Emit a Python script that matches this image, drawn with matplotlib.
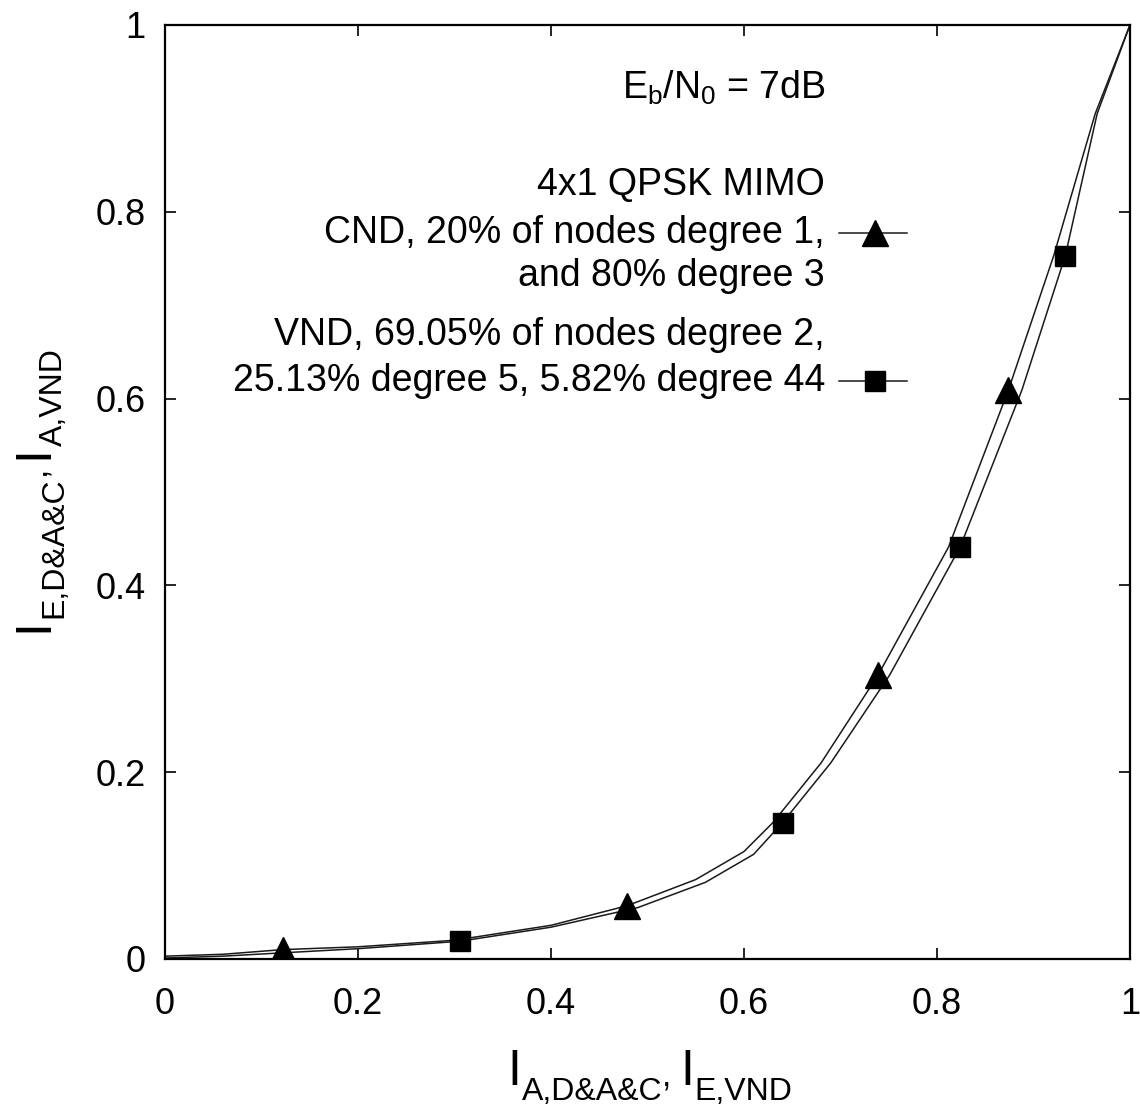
import matplotlib
matplotlib.use('Agg')
import matplotlib.pyplot as plt
import numpy as np

plt.rcParams['font.family'] = ['Liberation Sans', 'DejaVu Sans']
plt.rcParams['mathtext.fontset'] = 'custom'
plt.rcParams['mathtext.rm'] = 'Liberation Sans'
plt.rcParams['mathtext.it'] = 'Liberation Sans'
plt.rcParams['mathtext.bf'] = 'Liberation Sans'

# CND curve (triangles)
cnd_x = [0.0, 0.06, 0.122, 0.2, 0.3, 0.4, 0.479, 0.55, 0.6, 0.63, 0.68, 0.739, 0.812, 0.874, 0.921, 0.964, 1.0]
cnd_y = [0.003, 0.005, 0.010, 0.013, 0.020, 0.036, 0.057, 0.085, 0.115, 0.146, 0.21, 0.304, 0.441, 0.609, 0.753, 0.905, 1.0]
cnd_mx = [0.122, 0.479, 0.739, 0.874]
cnd_my = [0.010, 0.057, 0.304, 0.609]

# VND curve, inverted axes (squares)
vnd_x = [0.0, 0.06, 0.13, 0.2, 0.306, 0.4, 0.49, 0.56, 0.61, 0.64, 0.69, 0.751, 0.824, 0.888, 0.933, 0.966, 1.0]
vnd_y = [0.001, 0.003, 0.007, 0.011, 0.019, 0.034, 0.055, 0.082, 0.112, 0.146, 0.21, 0.304, 0.441, 0.609, 0.753, 0.905, 1.0]
vnd_mx = [0.306, 0.64, 0.824, 0.933]
vnd_my = [0.019, 0.146, 0.441, 0.753]

ticks = [0, 0.2, 0.4, 0.6, 0.8, 1]
tick_labels = ['0', '0.2', '0.4', '0.6', '0.8', '1']

W, H = 1140, 1109
fig = plt.figure(figsize=(W / 100, H / 100), dpi=100)
ax = fig.add_axes([0.1447, 0.1353, 0.8465, 0.8422])

ax.plot(cnd_x, cnd_y, color='0.1', lw=1.1)
ax.plot(vnd_x, vnd_y, color='0.1', lw=1.1)
ax.plot(cnd_mx, cnd_my, ls='none', marker='^', ms=19, color='black')
ax.plot(vnd_mx, vnd_my, ls='none', marker='s', ms=15, color='black')

ax.set_xlim(0, 1)
ax.set_ylim(0, 1)
ax.set_xticks(ticks)
ax.set_yticks(ticks)
ax.set_xticklabels(tick_labels)
ax.set_yticklabels(tick_labels)
ax.tick_params(axis='both', direction='in', length=8, width=1.2, labelsize=26,
               top=True, right=True)
ax.tick_params(axis='x', pad=20)
ax.tick_params(axis='y', pad=14)
for s in ax.spines.values():
    s.set_linewidth(1.6)


def compound_label(pieces, cx, cy, vertical=False):
    # pieces: (text, fontsize, drop in px); laid out one after another, centred on cx/cy
    r = fig.canvas.get_renderer()
    placed = []
    total = 0
    for s, size, drop in pieces:
        t = fig.text(0, 0, s, fontsize=size, rotation=90 if vertical else 0,
                     rotation_mode='anchor', ha='left', va='baseline')
        ext = t.get_window_extent(r)
        placed.append((t, total, drop))
        total += ext.height if vertical else ext.width
    for t, off, drop in placed:
        if vertical:
            x, y = cx + drop, cy - total / 2 + off
        else:
            x, y = cx - total / 2 + off, cy - drop
        t.set_position((x / W, y / H))


compound_label([('I', 36, 0), ('A,D&A&C', 23, 15), (', ', 24, 0),
                ('I', 36, 0), ('E,VND', 23, 15)], 650, 24)
compound_label([('I', 36, 0), ('E,D&A&C', 23, 15), (', ', 24, 0),
                ('I', 36, 0), ('A,VND', 23, 15)], 47, 619, vertical=True)

# legend block
tx = 0.684
fs = 27
ax.text(tx, 0.9325, r'$E_{b}/N_{0}$ = 7dB', fontsize=fs, ha='right', va='center')
ax.text(tx, 0.829, '4x1 QPSK MIMO', fontsize=fs, ha='right', va='center')
ax.text(tx, 0.777, 'CND, 20% of nodes degree 1,', fontsize=fs, ha='right', va='center')
ax.text(tx, 0.731, 'and 80% degree 3', fontsize=fs, ha='right', va='center')
ax.text(tx, 0.668, 'VND, 69.05% of nodes degree 2,', fontsize=fs, ha='right', va='center')
ax.text(tx, 0.619, '25.13% degree 5, 5.82% degree 44', fontsize=fs, ha='right', va='center')

ax.plot([0.699, 0.769], [0.777, 0.777], color='0.1', lw=1.1, transform=ax.transAxes)
ax.plot([0.736], [0.777], marker='^', ms=19, color='black', transform=ax.transAxes)
ax.plot([0.699, 0.769], [0.619, 0.619], color='0.1', lw=1.1, transform=ax.transAxes)
ax.plot([0.736], [0.619], marker='s', ms=15, color='black', transform=ax.transAxes)

fig.savefig('out.png', dpi=100)
